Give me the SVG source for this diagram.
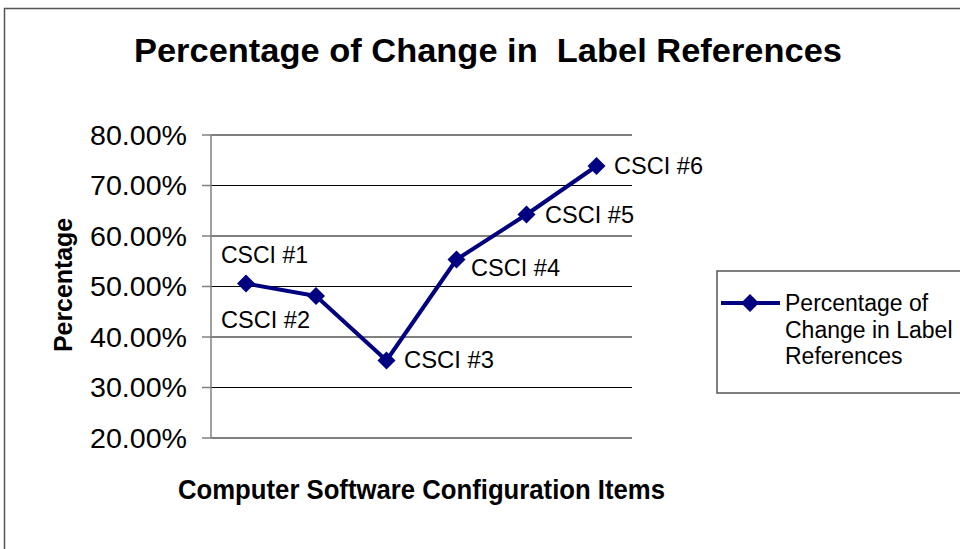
<svg xmlns="http://www.w3.org/2000/svg" width="960" height="549" viewBox="0 0 960 549">
<defs>
<style>
.t{font-family:"Liberation Sans",Arial,sans-serif;fill:#000}
.b{font-weight:bold}
.ax{font-size:27px}
.lbl{font-size:23px}
.grid{stroke:#000;stroke-width:1}
.axis{stroke:#808080;stroke-width:1.5}
.ser{fill:none;stroke:#000080;stroke-width:4;stroke-linejoin:round}
.mk{fill:#000080}
.lg{font-size:23px}
</style>
<path id="dm" d="M0,-9 L9,0 L0,9 L-9,0 Z"/>
</defs>
<rect x="0" y="0" width="960" height="549" fill="#fff"/>
<rect x="4.5" y="8.5" width="970" height="560" fill="none" stroke="#555" stroke-width="1.5"/>
<text class="t b" x="134" y="62" font-size="33" textLength="708" lengthAdjust="spacingAndGlyphs" style="white-space:pre">Percentage of Change in  Label References</text>
<g id="plot">
<g id="gridlines">
<line class="grid" x1="211" y1="135" x2="632" y2="135"/>
<line class="grid" x1="211" y1="185.5" x2="632" y2="185.5"/>
<line class="grid" x1="211" y1="236" x2="632" y2="236"/>
<line class="grid" x1="211" y1="286.5" x2="632" y2="286.5"/>
<line class="grid" x1="211" y1="337" x2="632" y2="337"/>
<line class="grid" x1="211" y1="387.5" x2="632" y2="387.5"/>
<line class="grid" x1="211" y1="438" x2="632" y2="438"/>
</g>
<g id="axis">
<line class="axis" x1="211" y1="135" x2="211" y2="438"/>
<line class="axis" x1="202" y1="135" x2="211" y2="135"/>
<line class="axis" x1="202" y1="185.5" x2="211" y2="185.5"/>
<line class="axis" x1="202" y1="236" x2="211" y2="236"/>
<line class="axis" x1="202" y1="286.5" x2="211" y2="286.5"/>
<line class="axis" x1="202" y1="337" x2="211" y2="337"/>
<line class="axis" x1="202" y1="387.5" x2="211" y2="387.5"/>
<line class="axis" x1="202" y1="438" x2="211" y2="438"/>
</g>
<g id="ylabels">
<text class="t ax" x="90" y="144.5" textLength="97" lengthAdjust="spacingAndGlyphs">80.00%</text>
<text class="t ax" x="90" y="195" textLength="97" lengthAdjust="spacingAndGlyphs">70.00%</text>
<text class="t ax" x="90" y="245.5" textLength="97" lengthAdjust="spacingAndGlyphs">60.00%</text>
<text class="t ax" x="90" y="296" textLength="97" lengthAdjust="spacingAndGlyphs">50.00%</text>
<text class="t ax" x="90" y="346.5" textLength="97" lengthAdjust="spacingAndGlyphs">40.00%</text>
<text class="t ax" x="90" y="397" textLength="97" lengthAdjust="spacingAndGlyphs">30.00%</text>
<text class="t ax" x="90" y="447.5" textLength="97" lengthAdjust="spacingAndGlyphs">20.00%</text>
</g>
<text class="t b" font-size="25" transform="translate(72,352) rotate(-90)" textLength="134" lengthAdjust="spacingAndGlyphs">Percentage</text>
<text class="t b" x="178" y="499" font-size="27" textLength="487" lengthAdjust="spacingAndGlyphs">Computer Software Configuration Items</text>
</g>
<g id="connectors">
<polyline class="ser" points="246,283.5 316,296 386.5,360.5 456.5,259.5 526.5,214.5 596.5,166"/>
</g>
<g id="markers">
<g id="p1"><use href="#dm" class="mk" x="246" y="283.5"/><text class="t lbl" x="221" y="263" textLength="87" lengthAdjust="spacingAndGlyphs">CSCI #1</text></g>
<g id="p2"><use href="#dm" class="mk" x="316" y="296"/><text class="t lbl" x="221" y="328" textLength="89" lengthAdjust="spacingAndGlyphs">CSCI #2</text></g>
<g id="p3"><use href="#dm" class="mk" x="386.5" y="360.5"/><text class="t lbl" x="404" y="368" textLength="90" lengthAdjust="spacingAndGlyphs">CSCI #3</text></g>
<g id="p4"><use href="#dm" class="mk" x="456.5" y="259.5"/><text class="t lbl" x="471" y="276" textLength="89" lengthAdjust="spacingAndGlyphs">CSCI #4</text></g>
<g id="p5"><use href="#dm" class="mk" x="526.5" y="214.5"/><text class="t lbl" x="545" y="222.5" textLength="89" lengthAdjust="spacingAndGlyphs">CSCI #5</text></g>
<g id="p6"><use href="#dm" class="mk" x="596.5" y="166"/><text class="t lbl" x="614" y="174" textLength="89" lengthAdjust="spacingAndGlyphs">CSCI #6</text></g>
</g>
<g id="legend">
<rect x="717" y="271" width="260" height="122" fill="#fff" stroke="#555" stroke-width="1.5"/>
<line x1="721" y1="303" x2="780" y2="303" stroke="#000080" stroke-width="4"/>
<use href="#dm" class="mk" x="750" y="303"/>
<text class="t lg" x="785" y="311">Percentage of</text>
<text class="t lg" x="785" y="337.5">Change in Label</text>
<text class="t lg" x="785" y="364">References</text>
</g>
</svg>
